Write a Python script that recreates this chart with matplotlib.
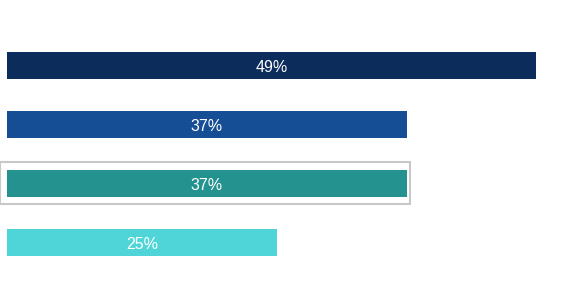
import matplotlib.pyplot as plt
from matplotlib.patches import Rectangle

plt.rcParams["font.family"] = ["Liberation Sans", "DejaVu Sans"]

values = [49, 37, 37, 25]
labels = ["49%", "37%", "37%", "25%"]
colors = ["#0c2d5c", "#164e95", "#249390", "#4fd5d8"]
highlight = 2

fig = plt.figure(figsize=(5.83, 2.81), dpi=100)
ax = fig.add_axes([0, 0, 1, 1])

pos = list(range(len(values)))
ax.barh(pos, values, height=0.47, color=colors)
for p, v, t in zip(pos, values, labels):
    ax.text(v / 2, p + 0.03, t, color="white", ha="center", va="center", fontsize=11.5)

# grey frame round the highlighted bar
ax.add_patch(Rectangle((-0.62, highlight - 0.36), values[highlight] + 0.9, 0.71,
                       fill=False, edgecolor="#c8c8c8", linewidth=1.5))

ax.set_xlim(-0.648, 53.33)
ax.set_ylim(3.653, -1.110)
ax.axis("off")

plt.savefig("out.png", dpi=100)
plt.close("all")
